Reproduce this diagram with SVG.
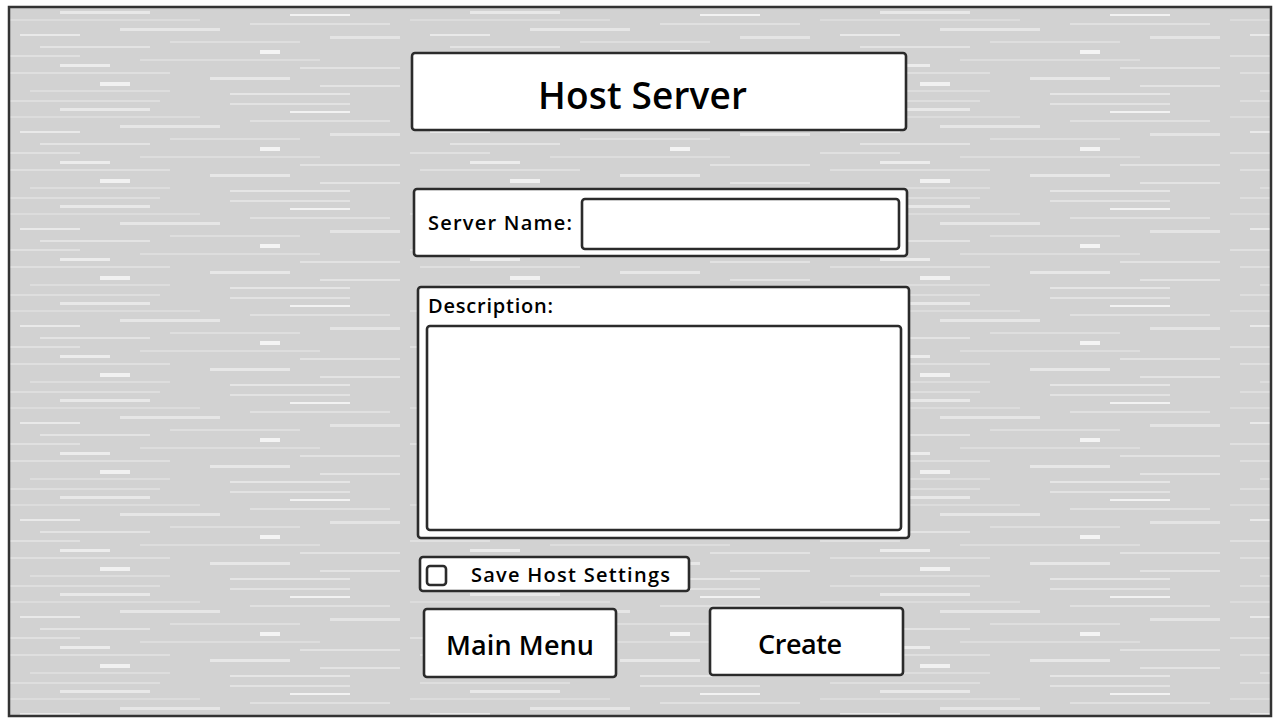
<svg xmlns="http://www.w3.org/2000/svg" width="1280" height="720" viewBox="0 0 1280 720">
<defs>
<pattern id="tex" x="0" y="0" width="410" height="97" patternUnits="userSpaceOnUse">
<rect width="410" height="97" fill="#d2d2d2"/>
<rect x="10" y="3" width="150" height="2" fill="#dedede"/>
<rect x="230" y="6" width="120" height="2" fill="#e2e2e2"/>
<rect x="60" y="11" width="90" height="3" fill="#e8e8e8"/>
<rect x="290" y="14" width="60" height="2" fill="#f2f2f2"/>
<rect x="0" y="19" width="200" height="2" fill="#dcdcdc"/>
<rect x="250" y="23" width="140" height="2" fill="#e0e0e0"/>
<rect x="120" y="28" width="100" height="3" fill="#e6e6e6"/>
<rect x="20" y="34" width="60" height="2" fill="#e9e9e9"/>
<rect x="330" y="36" width="70" height="3" fill="#e4e4e4"/>
<rect x="170" y="41" width="130" height="2" fill="#dedede"/>
<rect x="40" y="46" width="110" height="2" fill="#e3e3e3"/>
<rect x="260" y="50" width="20" height="4" fill="#f4f4f4"/>
<rect x="0" y="55" width="80" height="2" fill="#e0e0e0"/>
<rect x="140" y="59" width="180" height="2" fill="#dddddd"/>
<rect x="60" y="64" width="50" height="3" fill="#ececec"/>
<rect x="300" y="67" width="100" height="2" fill="#e2e2e2"/>
<rect x="10" y="72" width="160" height="2" fill="#dfdfdf"/>
<rect x="210" y="77" width="80" height="3" fill="#e7e7e7"/>
<rect x="100" y="82" width="30" height="4" fill="#f1f1f1"/>
<rect x="320" y="85" width="80" height="2" fill="#e3e3e3"/>
<rect x="30" y="90" width="140" height="2" fill="#dddddd"/>
<rect x="230" y="93" width="120" height="2" fill="#e5e5e5"/>
</pattern>
</defs>
<style>
.box{fill:#ffffff;stroke:#2b2b2b;stroke-width:2.6}
.t{font-family:"Open Sans","Noto Sans","Liberation Sans",sans-serif;fill:#000;font-weight:600}
</style>
<rect x="9" y="7" width="1262" height="709" fill="url(#tex)" stroke="#333" stroke-width="2.5"/>
<g id="title">
<rect class="box" x="412" y="53" width="494" height="77" rx="3"/>
<text class="t" x="538" y="109" font-size="37" textLength="209">Host Server</text>
</g>
<g id="server-name">
<rect class="box" x="414" y="189" width="493" height="67" rx="3"/>
<text class="t" x="428" y="230" font-size="20" textLength="144">Server Name:</text>
<rect class="box" x="582" y="199" width="317" height="50" rx="3"/>
</g>
<g id="description">
<rect class="box" x="418" y="287" width="491" height="251" rx="3"/>
<text class="t" x="428" y="313" font-size="20" textLength="125">Description:</text>
<rect class="box" x="427" y="326" width="474" height="204" rx="3"/>
</g>
<g id="save-settings">
<rect class="box" x="420" y="557" width="269" height="34" rx="3"/>
<rect class="box" x="427" y="566" width="19" height="19" rx="3"/>
<text class="t" x="471" y="582" font-size="20" font-weight="500" textLength="199">Save Host Settings</text>
</g>
<g id="main-menu">
<rect class="box" x="424" y="609" width="192" height="68" rx="3"/>
<text class="t" x="446" y="655" font-size="27" textLength="148">Main Menu</text>
</g>
<g id="create">
<rect class="box" x="710" y="608" width="193" height="67" rx="3"/>
<text class="t" x="758" y="654" font-size="27" textLength="84">Create</text>
</g>
<g id="connectors"></g>
</svg>
